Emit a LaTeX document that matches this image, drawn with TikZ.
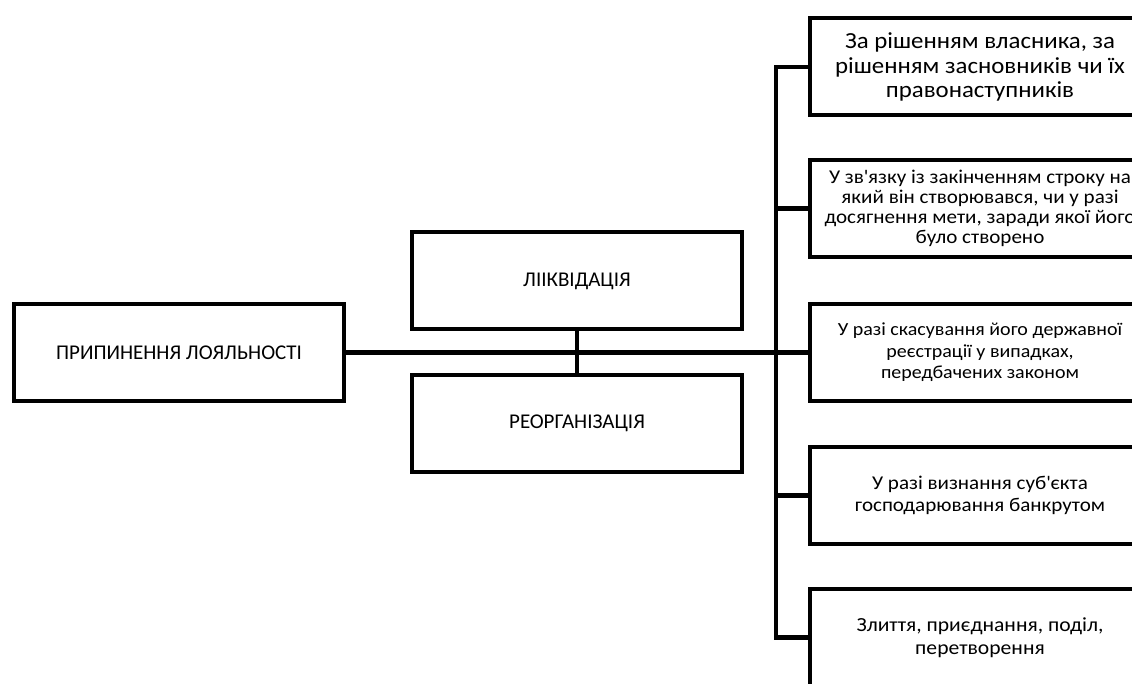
\documentclass[tikz,border=0pt]{standalone}
\usepackage{fontspec}
\setmainfont{Carlito}
\newfontfamily\wide{Carlito}[FakeStretch=1.08]

\begin{document}
\begin{tikzpicture}[x=1pt,y=-1pt,
    box/.style={draw,line width=4pt,minimum width=330pt,minimum height=97pt,align=center,inner sep=0pt},
    item/.style={box,minimum width=340pt,font=\wide\fontsize{19.5}{20}\selectfont},
    wire/.style={line width=4.5pt},
    caps/.style={font=\fontsize{21}{24}\selectfont}]
  \useasboundingbox (0,0) rectangle (1132,684);
  \clip (0,0) rectangle (1132,684);

  \node[box,caps] (stop) at (179,352.5) {ПРИПИНЕННЯ ЛОЯЛЬНОСТІ};
  \node[box,caps] (liq) at (577,281) {ЛІІКВІДАЦІЯ};
  \node[box,caps] (reorg) at (577,423.5) {РЕОРГАНІЗАЦІЯ};

  \node[item,font=\wide\fontsize{23}{24.5}\selectfont] (r1) at (980,67) {За рішенням власника, за\\рішенням засновників чи їх\\правонаступників};
  \node[item] (r2) at (980,208.5) {У зв\textquotesingle язку із закінченням строку на\\який він створювався, чи у разі\\досягнення мети, заради якої його\\було створено};
  \node[item,font=\wide\fontsize{18.5}{21.5}\selectfont] (r3) at (980,352.5) {У разі скасування його державної\\реєстрації у випадках,\\передбачених законом};
  \node[item,font=\wide\fontsize{19.5}{22.5}\selectfont] (r4) at (980,495.5) {У разі визнання суб\textquotesingle єкта\\господарювання банкрутом};
  \node[item,font=\wide\fontsize{20}{23}\selectfont] (r5) at (980,637.5) {Злиття, приєднання, поділ,\\перетворення};

  \coordinate (trunk) at (776,352.5);
  \draw[wire] (stop.east) -- (r3.west);
  \draw[wire] (liq.south) -- (reorg.north);
  \draw[wire] (r1.west) -| (trunk) |- (r5.west);
  \foreach \i in {2,4}
    \draw[wire] (trunk |- r\i) -- (r\i.west);
\end{tikzpicture}
\end{document}
